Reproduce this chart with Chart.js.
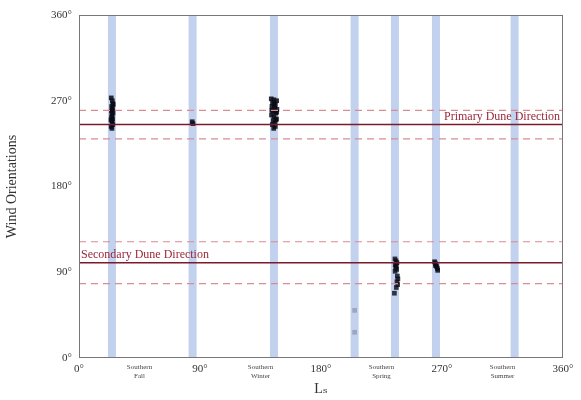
<!DOCTYPE html>
<html>
<head>
<meta charset="utf-8">
<script src="https://cdn.jsdelivr.net/npm/chart.js@4/dist/chart.umd.min.js"></script>
<style>
  html, body { margin: 0; padding: 0; background: #fff; }
  #wrap { width: 581px; height: 400px; position: relative; }
</style>
</head>
<body>
<div id="wrap"><canvas id="chart"></canvas></div>
<script>
// === data ===
const bandLs = [24.5, 84.5, 145, 205, 235, 265.5, 324];
const xTickValues = [0, 45, 90, 135, 180, 225, 270, 315, 360];
const seasonNames = { 45: "Fall", 135: "Winter", 225: "Spring", 315: "Summer" };
const yTickValues = [0, 90, 180, 270, 360];

const primaryDir = 245;
const primarySpread = 15;
const secondaryDir = 100;
const secondarySpread = 22;

const fallLs = [24.0, 24.8, 25.2, 24.3, 24.9, 24.1, 25.3, 24.6, 24.2, 25.0, 24.4, 24.7, 25.1, 23.9, 24.5, 24.8, 25.4, 23.8];
const fallWind = [273, 270, 267, 264, 262, 259, 257, 255, 253, 251, 249, 247, 245, 243, 241, 260, 266, 250];

const midFallLs = [84.2, 84.8];
const midFallWind = [248, 246];

const winterLs = [143, 145, 147, 144, 146, 143.5, 145.5, 147.2, 144.2, 146.4, 143.2, 145, 146.8, 144.5, 145.8, 143.8, 146, 144.8, 147, 145.2, 143.4, 146.6];
const winterWind = [272, 271, 270, 268, 266, 264, 262, 261, 259, 257, 255, 253, 251, 249, 247, 245, 243, 241, 258, 266, 260, 250];

const springLs = [235, 235.8, 236.5, 235.2, 236, 235.5, 236.3, 235.1, 236.8, 237.2, 236.5, 237, 236, 234.6];
const springWind = [104, 102, 100, 98, 97, 95, 93, 91, 86, 83, 80, 77, 74, 68];

const lateSpringLs = [264.5, 265, 265.5, 266, 266.5, 266.8, 265.2];
const lateSpringWind = [101, 99.5, 98, 96, 94, 92, 97];

const faintLs = [205, 205];
const faintWind = [50, 27];

const SERIF = "'Liberation Serif', 'DejaVu Serif', serif";
const toPoints = (xs, ys) => xs.map((x, i) => ({ x, y: ys[i] }));
const hLine = (y) => [{ x: 0, y }, { x: 360, y }];

// blue season bands + frame + line labels
const decorPlugin = {
  id: "decor",
  beforeDatasetsDraw(chart) {
    const { ctx, chartArea, scales } = chart;
    ctx.save();
    ctx.fillStyle = "rgba(172,193,232,0.75)";
    bandLs.forEach((ls) => {
      const x = scales.x.getPixelForValue(ls);
      ctx.fillRect(x - 4, chartArea.top, 8, chartArea.bottom - chartArea.top);
    });
    ctx.restore();
  },
  afterDatasetsDraw(chart) {
    const { ctx, chartArea, scales } = chart;
    ctx.save();
    ctx.strokeStyle = "#777";
    ctx.lineWidth = 1;
    ctx.strokeRect(chartArea.left + 0.5, chartArea.top + 0.5, chartArea.right - chartArea.left - 1, chartArea.bottom - chartArea.top - 1);
    ctx.font = "12px " + SERIF;
    ctx.fillStyle = "#9a2838";
    ctx.textBaseline = "bottom";
    ctx.textAlign = "right";
    ctx.fillText("Primary Dune Direction", scales.x.getPixelForValue(360) - 3, scales.y.getPixelForValue(primaryDir) - 2);
    ctx.textAlign = "left";
    ctx.fillText("Secondary Dune Direction", scales.x.getPixelForValue(0) + 2, scales.y.getPixelForValue(secondaryDir) - 2);
    ctx.restore();
  },
};

const pointStyle = (color) => ({
  type: "scatter",
  pointStyle: "rect",
  pointRadius: 3.3,
  backgroundColor: color,
  borderColor: color,
  borderWidth: 0,
});

const lineStyle = (color, width, dash) => ({
  type: "line",
  borderColor: color,
  borderWidth: width,
  borderDash: dash,
  pointRadius: 0,
  fill: false,
});

new Chart(document.getElementById("chart"), {
  type: "scatter",
  data: {
    datasets: [
      { data: hLine(primaryDir + primarySpread), ...lineStyle("#d98c94", 1.2, [7, 5]) },
      { data: hLine(primaryDir - primarySpread), ...lineStyle("#d98c94", 1.2, [7, 5]) },
      { data: hLine(secondaryDir + secondarySpread), ...lineStyle("#d98c94", 1.2, [7, 5]) },
      { data: hLine(secondaryDir - secondarySpread), ...lineStyle("#d98c94", 1.2, [7, 5]) },
      { data: hLine(primaryDir), ...lineStyle("#7a1a2a", 1.6, []) },
      { data: hLine(secondaryDir), ...lineStyle("#7a1a2a", 1.6, []) },
      { data: toPoints(faintLs, faintWind), ...pointStyle("rgba(110,115,140,0.45)") },
      { data: toPoints(fallLs, fallWind), ...pointStyle("rgba(10,10,20,0.85)") },
      { data: toPoints(midFallLs, midFallWind), ...pointStyle("rgba(10,10,20,0.85)") },
      { data: toPoints(winterLs, winterWind), ...pointStyle("rgba(10,10,20,0.85)") },
      { data: toPoints(springLs, springWind), ...pointStyle("rgba(10,10,20,0.8)") },
      { data: toPoints(lateSpringLs, lateSpringWind), ...pointStyle("rgba(10,10,20,0.85)") },
    ],
  },
  options: {
    responsive: true,
    maintainAspectRatio: false,
    animation: false,
    events: [],
    layout: { padding: { top: 15, right: 18, left: 4, bottom: 0 } },
    plugins: { legend: { display: false }, tooltip: { enabled: false } },
    scales: {
      x: {
        type: "linear",
        min: 0,
        max: 360,
        afterBuildTicks: (scale) => {
          scale.ticks = xTickValues.map((v) => ({ value: v }));
        },
        afterFit: (scale) => { scale.height = 42; },
        grid: { display: false, drawTicks: false },
        border: { display: false },
        ticks: {
          autoSkip: false,
          maxRotation: 0,
          padding: 5,
          color: (ctx) => (ctx.tick && seasonNames[ctx.tick.value] ? "#444" : "#333"),
          font: (ctx) =>
            ctx.tick && seasonNames[ctx.tick.value]
              ? { family: SERIF, size: 7, lineHeight: 1.3 }
              : { family: SERIF, size: 11 },
          callback: (v) => (seasonNames[v] ? ["Southern", seasonNames[v]] : v + "°"),
        },
        title: {
          display: true,
          text: "Lₛ",
          color: "#333",
          font: { family: SERIF, size: 14 },
          padding: { top: 0, bottom: 2 },
        },
      },
      y: {
        type: "linear",
        min: 0,
        max: 360,
        afterBuildTicks: (scale) => {
          scale.ticks = yTickValues.map((v) => ({ value: v }));
        },
        afterFit: (scale) => { scale.width = 75; },
        grid: { display: false, drawTicks: false },
        border: { display: false },
        ticks: {
          padding: 7,
          color: "#333",
          font: { family: SERIF, size: 11 },
          callback: (v) => v + "°",
        },
        title: {
          display: true,
          text: "Wind Orientations",
          color: "#333",
          font: { family: SERIF, size: 14 },
          padding: { top: 0, bottom: 4 },
        },
      },
    },
  },
  plugins: [decorPlugin],
});
</script>
</body>
</html>
